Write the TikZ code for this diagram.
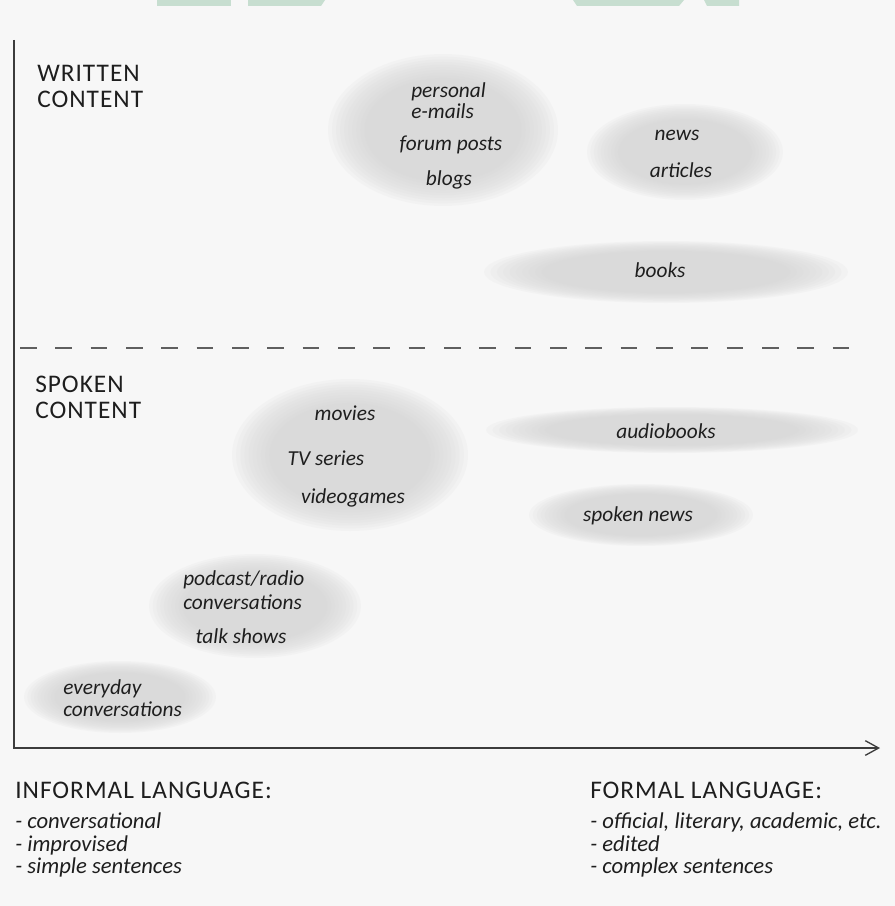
\documentclass[tikz,border=0pt]{standalone}
\usepackage{fontspec}
\setmainfont{Carlito}
\usetikzlibrary{arrows.meta}

\definecolor{paper}{RGB}{247,247,247}
\definecolor{blobgray}{RGB}{210,210,210}
\definecolor{axisgray}{RGB}{60,60,60}
\definecolor{dashgray}{RGB}{95,95,95}
\definecolor{inkblack}{RGB}{30,30,30}
\definecolor{markgreen}{RGB}{199,222,208}

% soft grey cloud: centre x, centre y, x radius, y radius (in px)
\newcommand{\softblob}[4]{%
  \foreach \f in {1.00,0.965,...,0.65}
    \fill[blobgray, fill opacity=0.11] (#1,#2) ellipse [x radius=\f*#3*0.75pt, y radius=\f*#4*0.75pt];}

\tikzset{
  axisline/.style={draw=axisgray, line width=1pt},
  divider/.style={draw=dashgray, line width=0.8pt, dash pattern=on 12.5pt off 14pt},
  headtext/.style={font=\fontsize{19}{19.5}\selectfont\addfontfeature{LetterSpace=4}, text=inkblack, align=left, anchor=west, inner sep=0pt},
  cloudtext/.style={font=\itshape\fontsize{16}{15.5}\selectfont, text=inkblack, inner sep=0pt},
  listtext/.style={font=\itshape\fontsize{17}{16.9}\selectfont, text=inkblack, align=left, anchor=west, inner sep=0pt}
}

\begin{document}
\begin{tikzpicture}[x=0.75pt,y=0.75pt,yscale=-1,xscale=1]
    % paper
    \fill[paper] (0,0) rectangle (895,906);
    
    %Shapes: marks along the top edge
    \fill[markgreen] (157,0) -- (231,0) -- (231,6) -- (157,6) -- cycle;
    \fill[markgreen] (248,0) -- (325,0) -- (321,6) -- (248,6) -- cycle;
    \fill[markgreen] (573,0) -- (684,0) -- (679,6) -- (577,6) -- cycle;
    \fill[markgreen] (704,0) -- (739,0) -- (739,6) -- (707,6) -- cycle;
    
    %Shapes: clouds, written content
    \softblob{443}{130}{115}{76}
    \softblob{685}{152}{98}{48}
    \softblob{666}{272}{182}{31}
    %Shapes: clouds, spoken content
    \softblob{350}{455}{118}{76}
    \softblob{672}{430}{186}{23}
    \softblob{641}{515}{112}{31}
    \softblob{255}{606}{106}{52}
    \softblob{120}{697}{96}{36}
    
    % axes
    \coordinate (ytop) at (14,40);
    \coordinate (origin) at (14,748);
    \coordinate (xend) at (880,748);
    \draw[axisline, -{Straight Barb[length=10pt,width=11pt,line width=1pt]}] (ytop) -- (origin) -- (xend);
    
    % dashed line between written and spoken
    \coordinate (divl) at (20,348);
    \coordinate (divr) at (862,348);
    \draw[divider] (divl) -- (divr);
    
    % Text Node
    \node[headtext] (written) at (37,86) {WRITTEN\\CONTENT};
    % Text Node
    \node[headtext] (spoken) at (35,397) {SPOKEN\\CONTENT};
    
    % Text Node
    \node[cloudtext, align=left, anchor=west] (emails) at (411,101) {personal\\e-mails};
    \node[cloudtext] (forum) at (451,145) {forum posts};
    \node[cloudtext] (blogs) at (449,180) {blogs};
    % Text Node
    \node[cloudtext] (news) at (677,135) {news};
    \node[cloudtext] (articles) at (681,170) {articles};
    % Text Node
    \node[cloudtext] (books) at (660,270) {books};
    
    % Text Node
    \node[cloudtext] (movies) at (345,413) {movies};
    \node[cloudtext] (tv) at (326,458) {TV series};
    \node[cloudtext] (games) at (353,498) {videogames};
    % Text Node
    \node[cloudtext] (audio) at (666,431) {audiobooks};
    \node[cloudtext] (spokennews) at (638,516) {spoken news};
    % Text Node
    \node[cloudtext, align=left, anchor=west, font=\itshape\fontsize{16}{17.5}\selectfont] (podcast) at (183,590) {podcast/radio\\conversations};
    \node[cloudtext] (talk) at (241,636) {talk shows};
    % Text Node
    \node[cloudtext, align=left, anchor=west, font=\itshape\fontsize{16}{16.5}\selectfont] (everyday) at (63,698) {everyday\\conversations};
    
    % Text Node
    \node[headtext] (informal) at (15,790) {INFORMAL LANGUAGE:};
    \node[listtext] (informallist) at (15,845) {- conversational\\- improvised\\- simple sentences};
    % Text Node
    \node[headtext] (formal) at (590,790) {FORMAL LANGUAGE:};
    \node[listtext] (formallist) at (590,845) {- official, literary, academic, etc.\\- edited\\- complex sentences};
    
\end{tikzpicture}
\end{document}
